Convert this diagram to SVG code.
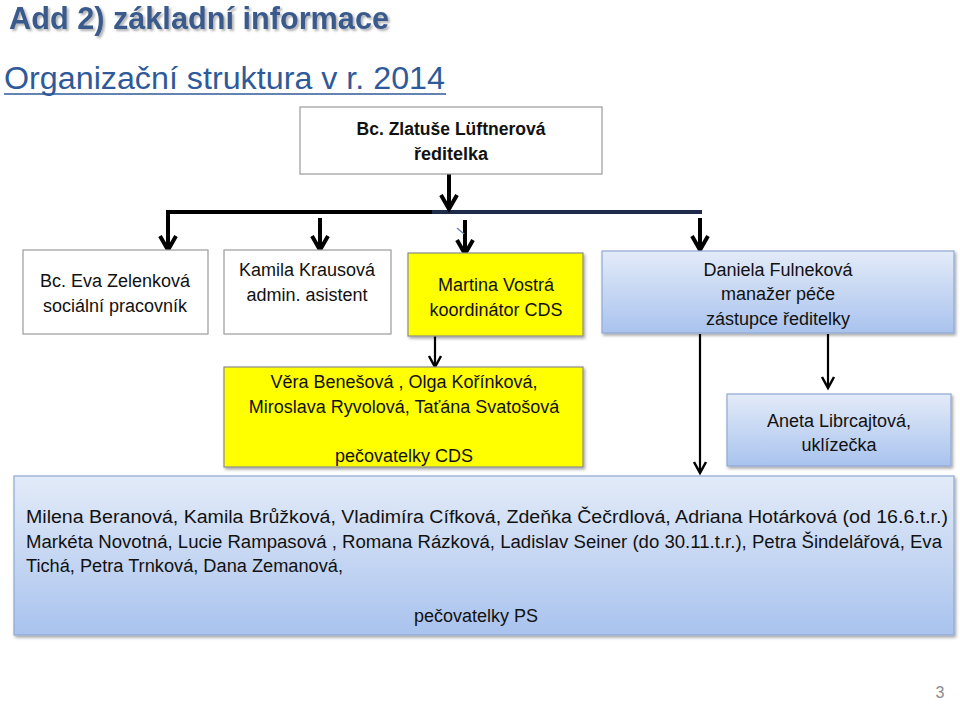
<svg xmlns="http://www.w3.org/2000/svg" width="960" height="704" viewBox="0 0 960 704">
<defs>
<linearGradient id="blue" x1="0" y1="0" x2="0" y2="1">
<stop offset="0" stop-color="#E3EBF8"/>
<stop offset="1" stop-color="#A9C3EE"/>
</linearGradient>
<filter id="sh" x="-5%" y="-5%" width="110%" height="120%">
<feDropShadow dx="1.5" dy="2" stdDeviation="1.5" flood-color="#000" flood-opacity="0.35"/>
</filter>
<filter id="tsh" x="-5%" y="-20%" width="110%" height="150%">
<feDropShadow dx="2" dy="2" stdDeviation="1" flood-color="#000" flood-opacity="0.3"/>
</filter>
<marker id="ahT" markerUnits="userSpaceOnUse" markerWidth="22" markerHeight="22" viewBox="0 0 22 22" refX="17" refY="11" orient="auto">
<path d="M3,3 L17,11 L3,19" fill="none" stroke="#000" stroke-width="4"/>
</marker>
<marker id="aht" markerUnits="userSpaceOnUse" markerWidth="16" markerHeight="16" viewBox="0 0 16 16" refX="13" refY="8" orient="auto">
<path d="M2,2 L13,8 L2,14" fill="none" stroke="#000" stroke-width="2.5"/>
</marker>
</defs>
<style>
.t{font-family:"Liberation Sans",Arial,sans-serif;font-size:18px;fill:#111;text-anchor:middle}
.b{font-weight:bold}
.wbox{fill:#fff;stroke:#9a9a9a;stroke-width:1.2}
.ybox{fill:#FFFF00;stroke:#8c8c8c;stroke-width:1.2}
.bbox{fill:url(#blue);stroke:#8FA9D4;stroke-width:1.2}
.thick{stroke:#000;stroke-width:4;fill:none;marker-end:url(#ahT)}
.thin{stroke:#000;stroke-width:2.2;fill:none;marker-end:url(#aht)}
</style>
<rect width="960" height="704" fill="#fff"/>
<g id="title">
<text x="9" y="29" font-family="Liberation Sans,Arial,sans-serif" font-weight="bold" font-size="32" fill="#3A5A8C" textLength="380" lengthAdjust="spacingAndGlyphs" filter="url(#tsh)">Add 2) základní informace</text>
<line x1="8" y1="33" x2="390" y2="33" stroke="#3A5A8C" stroke-width="2" filter="url(#tsh)"/>
<text x="4" y="89" font-family="Liberation Sans,Arial,sans-serif" font-size="31" fill="#2F5A99" textLength="441" lengthAdjust="spacingAndGlyphs">Organizační struktura  v r. 2014</text>
<line x1="4" y1="94" x2="446" y2="94" stroke="#2F5A99" stroke-width="1.5"/>
</g>
<g id="connectors">
<line x1="166" y1="212" x2="433" y2="212" stroke="#000" stroke-width="4"/>
<line x1="432" y1="212" x2="702" y2="212" stroke="#1E2B4A" stroke-width="4"/>
<line class="thick" x1="449" y1="174" x2="449" y2="209"/>
<line class="thick" x1="168" y1="212" x2="168" y2="250"/>
<line class="thick" x1="320" y1="218" x2="320" y2="250"/>
<line class="thick" x1="465" y1="220" x2="465" y2="254"/>
<line class="thick" x1="700" y1="218" x2="700" y2="250"/>
<line x1="457" y1="228" x2="464" y2="234" stroke="#6A87B8" stroke-width="1.5"/>
<line class="thin" x1="435" y1="336" x2="435" y2="367"/>
<line class="thin" x1="700" y1="334" x2="700" y2="473"/>
<line class="thin" x1="828" y1="334" x2="828" y2="388"/>
</g>
<g id="director">
<rect class="wbox" x="300" y="107" width="302" height="67"/>
<text class="t b" x="451" y="135" font-size="17" textLength="189" lengthAdjust="spacingAndGlyphs">Bc. Zlatuše Lüftnerová</text>
<text class="t b" x="451" y="160" font-size="17">ředitelka</text>
</g>
<g id="zelenkova">
<rect class="wbox" x="23" y="250" width="185" height="84"/>
<text class="t" x="115" y="287">Bc. Eva Zelenková</text>
<text class="t" x="115" y="312">sociální  pracovník</text>
</g>
<g id="krausova">
<rect class="wbox" x="224" y="250" width="167" height="84"/>
<text class="t" x="307" y="276">Kamila Krausová</text>
<text class="t" x="307" y="301">admin. asistent</text>
</g>
<g id="vostra">
<rect class="ybox" x="408" y="253" width="175" height="83" filter="url(#sh)"/>
<text class="t" x="496" y="291" font-size="19">Martina Vostrá</text>
<text class="t" x="496" y="316" font-size="19">koordinátor CDS</text>
</g>
<g id="fulnekova">
<rect class="bbox" x="602" y="251" width="352" height="82" filter="url(#sh)"/>
<text class="t" x="778" y="276" font-size="18.5">Daniela Fulneková</text>
<text class="t" x="778" y="300" font-size="18.5">manažer péče</text>
<text class="t" x="778" y="325" font-size="18.5">zástupce ředitelky</text>
</g>
<g id="cds">
<rect class="ybox" x="224" y="367" width="359" height="100" filter="url(#sh)"/>
<text class="t" x="404" y="388" font-size="18.3">Věra  Benešová , Olga Kořínková,</text>
<text class="t" x="404" y="413" font-size="18.3">Miroslava Ryvolová, Taťána Svatošová</text>
<text class="t" x="404" y="462" font-size="18.3">pečovatelky CDS</text>
</g>
<g id="librcajtova">
<rect class="bbox" x="727" y="394" width="224" height="72" filter="url(#sh)"/>
<text class="t" x="839" y="427" font-size="18.5">Aneta Librcajtová,</text>
<text class="t" x="839" y="451" font-size="18.5">uklízečka</text>
</g>
<g id="ps">
<rect class="bbox" x="14" y="476" width="940" height="159" filter="url(#sh)"/>
<text class="t" x="26" y="523" style="text-anchor:start" textLength="922" lengthAdjust="spacingAndGlyphs">Milena Beranová, Kamila Brůžková, Vladimíra  Cífková, Zdeňka Čečrdlová, Adriana Hotárková (od 16.6.t.r.)</text>
<text class="t" x="26" y="548" style="text-anchor:start" textLength="916" lengthAdjust="spacingAndGlyphs">Markéta Novotná, Lucie Rampasová , Romana Rázková, Ladislav  Seiner (do 30.11.t.r.), Petra Šindelářová, Eva</text>
<text class="t" x="26" y="572" style="text-anchor:start" textLength="317" lengthAdjust="spacingAndGlyphs">Tichá, Petra Trnková, Dana Zemanová,</text>
<text class="t" x="476" y="622">pečovatelky PS</text>
</g>
<text x="940" y="698" font-family="Liberation Sans,Arial,sans-serif" font-size="16" fill="#8a8a8a" text-anchor="middle">3</text>
</svg>
